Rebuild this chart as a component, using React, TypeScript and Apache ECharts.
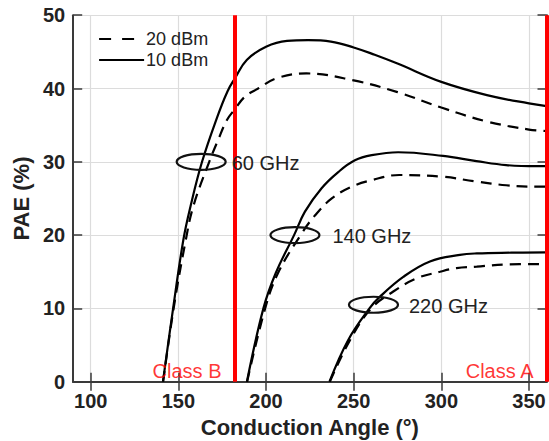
import React, { useEffect, useRef } from "react";
import * as echarts from "echarts";

const FONT = "'Liberation Sans', Arial, Helvetica, sans-serif";

// Axis ranges and tick values
const xRange = [90, 360];
const yRange = [0, 50];
const xTicks = [100, 150, 200, 250, 300, 350];

// PAE (%) versus conduction angle (deg), [angle, PAE]
const pae60At10dBm = [
  [141.2, 0], [147, 10], [152.8, 19.3], [157, 24], [163.5, 30], [172, 36], [178, 39.6],
  [182.3, 41.4], [189, 43.9], [200, 45.7], [212, 46.5], [224, 46.6], [237, 46.4],
  [250, 45.6], [262, 44.6], [275, 43.4], [300, 40.9], [326, 39.1], [350, 37.96], [360, 37.6],
];
const pae60At20dBm = [
  [141.3, 0], [147.3, 10], [154.2, 19.3], [158.6, 24], [167.6, 30], [172.7, 33],
  [177.7, 35.7], [182.3, 37.2], [188, 38.9], [195.5, 40], [206, 41.4], [223, 42.05],
  [250, 41.1], [275, 39.5], [300, 37.4], [326, 35.5], [350, 34.4], [360, 34.2],
];
const pae140At10dBm = [
  [189.1, 0], [198.5, 10], [205.5, 14.8], [216, 20], [222.2, 23.2], [231.7, 26.4],
  [241.2, 28.6], [250.7, 30.2], [260.3, 30.9], [275.4, 31.3], [301, 30.8], [320, 30.1],
  [337, 29.55], [354.5, 29.4], [360, 29.4],
];
const pae140At20dBm = [
  [189.2, 0], [199.5, 10], [206.8, 14.8], [220, 20.1], [228, 22.7], [237.5, 25],
  [248.9, 26.6], [260.3, 27.5], [276, 28.2], [301, 27.96], [320, 27.3], [337, 26.8],
  [354.5, 26.6], [360, 26.6],
];
const pae220At10dBm = [
  [236.2, 0], [246.9, 5.7], [259, 10], [265, 11.6], [278.3, 14.3], [293.5, 16.4],
  [310.6, 17.3], [320.2, 17.5], [340, 17.6], [360, 17.65],
];
const pae220At20dBm = [
  [236.4, 0], [247.5, 5.5], [260, 10], [272.6, 12.3], [285.9, 14.1], [299.2, 15],
  [308.7, 15.5], [320.2, 15.7], [337.4, 16], [360, 16.05],
];

// Frequency call-outs (ellipse around each curve pair)
const bandNames = ["60 GHz", "140 GHz", "220 GHz"];
const bandAngles = [163, 216.5, 261.3];
const bandPae = [30, 20, 10.5];

// Class B / Class A boundaries
const classNames = ["Class B", "Class A"];
const classAngles = [182, 360];

const legendNames = ["20 dBm", "10 dBm"];

const labelGaps = [6, 13, 11];
const DASH = [11, 7];
const RX = 24.5;
const RY = 8;

function curve(name: string, data: number[][], dashed: boolean) {
  return {
    type: "line",
    name,
    data,
    smooth: 0.4,
    symbol: "none",
    showSymbol: false,
    clip: true,
    silent: true,
    z: 2,
    lineStyle: { color: "#000", width: 2.2, type: dashed ? DASH : "solid" },
    itemStyle: { color: "#000" },
  };
}

export default function App() {
  const ref = useRef<HTMLDivElement>(null);

  useEffect(() => {
    document.body.style.margin = "0";
    if (!ref.current) return;
    const chart = echarts.init(ref.current, null, { renderer: "svg" });

    const axisLine = { show: true, lineStyle: { color: "#3a3a3a", width: 2 } };
    const tick = { show: true, inside: true, length: 9, lineStyle: { color: "#3a3a3a", width: 1.5 } };
    const tickLabel = { fontFamily: FONT, fontSize: 20, fontWeight: "bold", color: "#222" };
    const hiddenMarker = { color: "rgba(0,0,0,0)", borderWidth: 0, opacity: 0 };

    chart.setOption({
      animation: false,
      backgroundColor: "#fff",
      grid: { left: 73.2, right: 2.5, top: 15.2, bottom: 59.3, outerBoundsMode: "none" },
      legend: {
        left: 93,
        top: 25,
        orient: "vertical",
        itemWidth: 45,
        itemHeight: 18,
        itemGap: 3,
        selectedMode: false,
        itemStyle: hiddenMarker,
        textStyle: { fontFamily: FONT, fontSize: 18, color: "#222", padding: [0, 0, 0, -3] },
        data: [
          { name: legendNames[0], itemStyle: hiddenMarker, lineStyle: { type: [12, 11], width: 2.2, color: "#000" } },
          { name: legendNames[1], itemStyle: hiddenMarker, lineStyle: { type: "solid", width: 2.2, color: "#000" } },
        ],
      },
      xAxis: [
        {
          type: "value",
          position: "bottom",
          min: xRange[0],
          max: xRange[1],
          name: "Conduction Angle (°)",
          nameLocation: "middle",
          nameGap: 35,
          nameTextStyle: { fontFamily: FONT, fontSize: 22, fontWeight: "bold", color: "#222" },
          axisLine,
          axisTick: { ...tick, customValues: xTicks },
          axisLabel: { ...tickLabel, margin: 9, customValues: xTicks },
          splitLine: { show: true, lineStyle: { color: "#dcdcdc", width: 1.2 } },
        },
        {
          type: "value",
          position: "top",
          min: xRange[0],
          max: xRange[1],
          axisLine,
          axisTick: { ...tick, customValues: xTicks },
          axisLabel: { show: false },
          splitLine: { show: false },
        },
      ],
      yAxis: [
        {
          type: "value",
          position: "left",
          min: yRange[0],
          max: yRange[1],
          interval: 10,
          name: "PAE (%)",
          nameLocation: "middle",
          nameGap: 34,
          nameTextStyle: { fontFamily: FONT, fontSize: 22, fontWeight: "bold", color: "#222" },
          axisLine,
          axisTick: tick,
          axisLabel: { ...tickLabel, margin: 8 },
          splitLine: { show: true, lineStyle: { color: "#dcdcdc", width: 1.2 } },
        },
        {
          type: "value",
          position: "right",
          min: yRange[0],
          max: yRange[1],
          interval: 10,
          axisLine,
          axisTick: tick,
          axisLabel: { show: false },
          splitLine: { show: false },
        },
      ],
      series: [
        curve(legendNames[0], pae60At20dBm, true),
        curve(legendNames[1], pae60At10dBm, false),
        curve(legendNames[0], pae140At20dBm, true),
        curve(legendNames[1], pae140At10dBm, false),
        curve(legendNames[0], pae220At20dBm, true),
        curve(legendNames[1], pae220At10dBm, false),
        {
          type: "scatter",
          name: "classes",
          silent: true,
          z: 4,
          symbolSize: 0,
          data: classAngles.map((a, i) => [a, yRange[0], classNames[i]]),
          label: {
            show: true,
            position: "left",
            distance: 13,
            offset: [0, -11],
            formatter: (p: any) => p.value[2],
            fontFamily: FONT,
            fontSize: 20,
            color: "#ff0000",
          },
          markLine: {
            silent: true,
            z: 4,
            symbol: ["none", "none"],
            label: { show: false },
            lineStyle: { color: "#ff0000", width: 4, type: "solid" },
            data: classAngles.map((a) => ({ xAxis: a })),
          },
        },
        {
          type: "custom",
          name: "bands",
          silent: true,
          z: 10,
          clip: false,
          data: bandNames.map((n, i) => [bandAngles[i], bandPae[i], i]),
          renderItem: (params: any, api: any) => {
            const p = api.coord([api.value(0), api.value(1)]);
            const i = api.value(2);
            return {
              type: "group",
              children: [
                {
                  type: "ellipse",
                  shape: { cx: p[0], cy: p[1], rx: RX, ry: RY },
                  style: { fill: "none", stroke: "#111", lineWidth: 2.2 },
                },
                {
                  type: "text",
                  style: {
                    text: bandNames[i],
                    x: p[0] + RX + labelGaps[i],
                    y: p[1] + 1,
                    verticalAlign: "middle",
                    align: "left",
                    fill: "#222",
                    font: `20px ${FONT}`,
                  },
                },
              ],
            };
          },
        },
      ],
    });

    return () => chart.dispose();
  }, []);

  return <div ref={ref} style={{ width: 549, height: 441 }} />;
}
